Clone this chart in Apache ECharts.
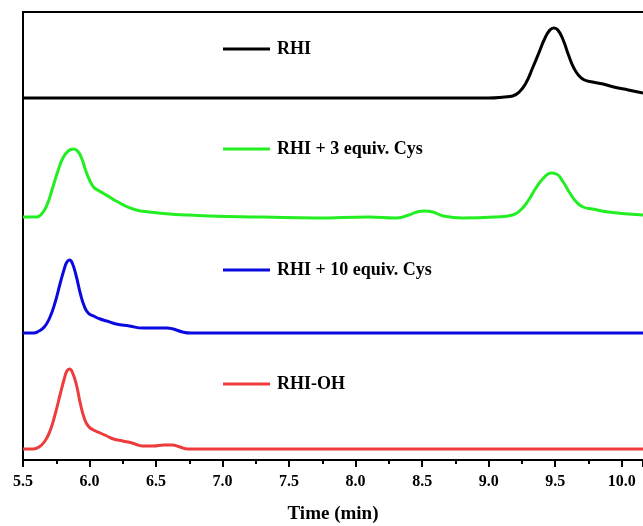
<!DOCTYPE html>
<html>
<head>
<meta charset="utf-8">
<script src="https://cdn.jsdelivr.net/npm/echarts@6/dist/echarts.min.js"></script>
<style>
  html, body { margin: 0; padding: 0; background: #fff; }
  #chart { width: 643px; height: 526px; }
</style>
</head>
<body>
<div id="chart"></div>
<script>
// chromatograms, intensity in arbitrary units, stacked with offsets
var rhiT = [5.50, 9.00, 9.12, 9.18, 9.23, 9.28, 9.33, 9.38, 9.42, 9.46, 9.49, 9.52, 9.56, 9.60, 9.64, 9.68, 9.72, 9.78, 9.86, 9.94, 10.05, 10.16];
var rhiV = [0, 0, 1, 2, 6, 15, 30, 46, 59, 68, 70, 68, 58, 43, 30, 22, 18, 16, 14, 11, 8, 5];

var cys3T = [5.50, 5.60, 5.64, 5.68, 5.72, 5.76, 5.80, 5.84, 5.88, 5.91, 5.94, 5.97, 6.00, 6.03, 6.06, 6.10, 6.15, 6.20, 6.27, 6.35, 6.45, 6.60, 6.75, 6.90,
             7.30, 7.70, 8.10, 8.30, 8.40, 8.46, 8.52, 8.58, 8.66, 8.80, 9.05, 9.18, 9.24, 9.30, 9.36, 9.42, 9.47, 9.51, 9.56, 9.61, 9.66, 9.71, 9.78, 9.90, 10.05, 10.16];
var cys3V = [0, 0, 3, 12, 28, 45, 59, 66, 68, 66, 59, 47, 37, 30, 27, 24, 20, 16, 11, 7, 5, 3, 2, 1,
             0, -1, 0, -1, 2, 5, 6, 5, 1, -1, 0, 2, 7, 17, 30, 40, 44, 43, 35, 24, 15, 10, 8, 5, 3, 2];

var cys10T = [5.50, 5.58, 5.62, 5.66, 5.70, 5.74, 5.78, 5.81, 5.83, 5.85, 5.87, 5.90, 5.93, 5.96, 5.99, 6.03, 6.08, 6.13, 6.20, 6.30, 6.40, 6.50, 6.58, 6.63, 6.70, 6.76, 10.16];
var cys10V = [0, 0, 2, 6, 15, 30, 50, 64, 71, 73, 70, 57, 40, 27, 20, 17, 14, 12, 9, 7, 5, 5, 5, 4, 1, 0, 0];

var ohT = [5.50, 5.58, 5.62, 5.66, 5.70, 5.74, 5.78, 5.81, 5.83, 5.85, 5.87, 5.90, 5.93, 5.96, 5.99, 6.03, 6.08, 6.13, 6.18, 6.25, 6.32, 6.40, 6.48, 6.56, 6.62, 6.68, 6.74, 10.16];
var ohV = [0, 0, 2, 7, 17, 34, 55, 70, 78, 80, 77, 65, 46, 31, 23, 19, 16, 13, 10, 8, 6, 3, 3, 4, 4, 2, 0, 0];

var names = ['RHI', 'RHI + 3 equiv. Cys', 'RHI + 10 equiv. Cys', 'RHI-OH'];
var offsets = [362, 243, 127, 11];
var colors = ['#000000', '#22ee22', '#0a0ae0', '#ee3b3b'];

function pairs(t, v, off) {
  var out = [];
  for (var i = 0; i < t.length; i++) out.push([t[i], v[i] + off]);
  return out;
}
var traces = [
  pairs(rhiT, rhiV, offsets[0]),
  pairs(cys3T, cys3V, offsets[1]),
  pairs(cys10T, cys10V, offsets[2]),
  pairs(ohT, ohV, offsets[3])
];

var font = 'Liberation Serif';
var legendTops = [40, 140, 261, 375];

var legends = names.map(function (n, i) {
  return {
    data: [n],
    left: 223,
    top: legendTops[i],
    padding: 0,
    icon: 'rect',
    itemWidth: 47,
    itemHeight: 3,
    selectedMode: false,
    textStyle: {
      fontFamily: font,
      fontWeight: 'bold',
      fontSize: 18,
      color: '#000',
      padding: [0, 0, 0, 2]
    }
  };
});

var chart = echarts.init(document.getElementById('chart'));
chart.setOption({
  backgroundColor: '#fff',
  animation: false,
  legend: legends,
  grid: { left: 23, right: 0, top: 12, bottom: 66, containLabel: false, outerBoundsMode: 'none' },
  xAxis: [
    {
      type: 'value',
      min: 5.5,
      max: 10.16,
      interval: 0.5,
      name: 'Time (min)',
      nameLocation: 'middle',
      nameGap: 45,
      nameTextStyle: { fontFamily: font, fontWeight: 'bold', fontSize: 19, color: '#000' },
      axisLine: { show: true, lineStyle: { color: '#000', width: 2 } },
      axisTick: { show: true, length: 7, lineStyle: { color: '#000', width: 2 } },
      minorTick: { show: true, splitNumber: 2, length: 4, lineStyle: { color: '#000', width: 2 } },
      splitLine: { show: false },
      axisLabel: {
        showMaxLabel: false,
        margin: 14,
        fontFamily: font,
        fontWeight: 'bold',
        fontSize: 16,
        color: '#000',
        formatter: function (v) { return v.toFixed(1); }
      }
    },
    {
      type: 'value',
      position: 'top',
      min: 5.5,
      max: 10.16,
      axisLine: { show: true, lineStyle: { color: '#000', width: 2 } },
      axisTick: { show: false },
      axisLabel: { show: false },
      splitLine: { show: false }
    }
  ],
  yAxis: {
    type: 'value',
    min: 0,
    max: 448,
    axisLine: { show: true, lineStyle: { color: '#000', width: 2 } },
    axisTick: { show: false },
    axisLabel: { show: false },
    splitLine: { show: false }
  },
  series: names.map(function (n, i) {
    return {
      name: n,
      type: 'line',
      data: traces[i],
      smooth: 0.5,
      showSymbol: false,
      symbol: 'none',
      color: colors[i],
      lineStyle: { color: colors[i], width: 3 }
    };
  })
});
</script>
</body>
</html>
